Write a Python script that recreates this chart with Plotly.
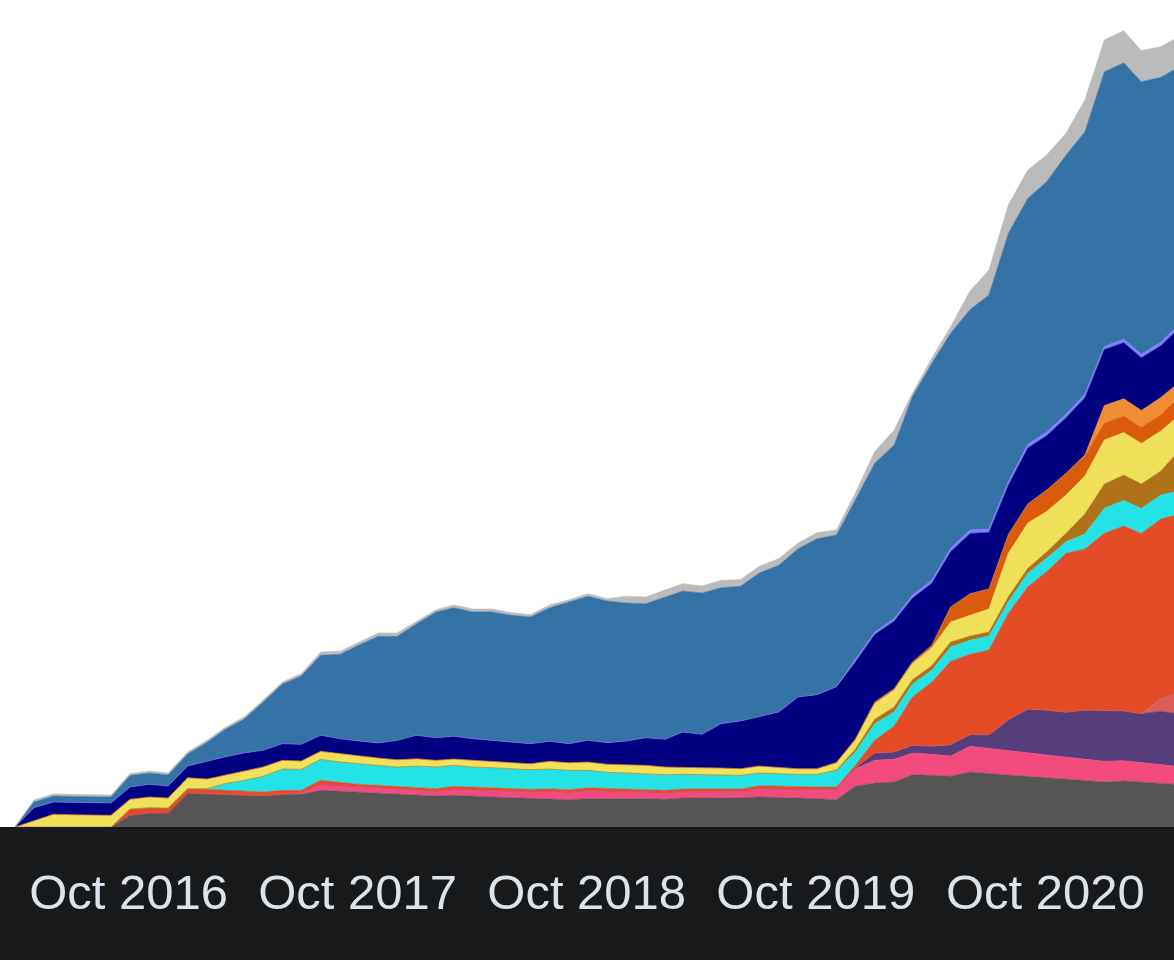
import pandas as pd
import plotly.graph_objects as go

# monthly snapshots, Apr 2016 .. May 2021
months = pd.date_range("2016-04-01", periods=62, freq="MS") + pd.Timedelta(days=2)

gray = [0, 0, 0, 0, 0, 0,
        11.7, 14, 14, 34, 33.3, 32.7, 32, 31.3, 32.7,
        32.7, 36.7, 35.7, 34.7, 34, 33, 32, 31, 31.7, 30.7, 30, 29.3, 28.7, 28, 27.3, 28.3,
        28, 28.3, 28.3, 27.7, 29, 29, 29, 29.3, 30, 29.7, 29, 28.3,
        27.3, 40.7, 44, 45, 52.3, 51.7, 50.7, 55, 53.3,
        52, 50.7, 49.3, 47.8, 46.3, 45, 46, 44.7, 43.3, 42.5]
pink = [0] * 15 + [
        2.3, 6, 6, 5.3, 5.3, 5.3, 5.3, 5, 6.6, 6.6, 6.7, 6.7, 7, 8, 7.7, 8.4,
        8, 7.4, 7, 7, 6.7, 6.3, 6.7, 6.7, 8.7, 8.3, 8.7, 9.7,
        10, 17.6, 22.7, 22.7, 21.7, 21, 20.3, 25.7, 25.5,
        24.3, 23.5, 22.7, 22.2, 21.5, 20.7, 20.3, 19.6, 19, 17.8]
purple = [0] * 43 + [
        0.7, 1, 7.3, 7.3, 7.7, 8, 11.3, 11.6, 13.2,
        31, 43.5, 44.7, 44.7, 48.9, 50.3, 49.7, 49, 53.4, 52.7]
salmon = [0] * 60 + [12.6, 22]
red = [0, 0, 0, 0, 0, 0,
       6.3, 5.3, 5, 4.3, 4.4, 4, 4, 3.7, 4,
       1.7, 4, 2.6, 2.7, 2.4, 2.4, 2, 2.3, 2.4, 2.7, 2.6, 2.3, 2, 2.3, 2.3, 2.6,
       2.7, 2.6, 2.7, 2, 2.3, 2.7, 2.3, 2, 2.6, 2.7, 2.3, 2,
       2, 2.4, 12.7, 26, 48.3, 64.3, 83.4, 80.4, 85,
       106.4, 122.6, 138.6, 159, 161.3, 177.7, 185, 180.2, 179.7, 178]
cyan = [0] * 10 + [
        0.6, 6.6, 10.7, 15.7, 21.3,
        21, 21, 20.7, 20.6, 20, 19.3, 21.7, 21.7, 21, 20, 20, 20, 19.6, 19.7, 19.4, 17.4,
        16, 15.7, 15.3, 15.6, 14.7, 14.3, 14.3, 13.7, 12.7, 12.6, 12.7, 12.7,
        16, 13, 16.6, 14, 12.7, 11.7, 14.3, 14, 14,
        11.6, 13.4, 13.4, 11.6, 15, 25, 25.5, 25, 24, 23]
brown = [0] * 43 + [
        1, 3, 4.4, 5, 4.6, 4.6, 5, 4.3, 4,
        5, 5, 6.3, 8.4, 20, 24.3, 25.5, 24.5, 24, 41]
yellow = [0, 6.3, 12.7, 12.3, 12.3, 11.7,
          9.7, 10.7, 10, 11, 9.7, 8.4, 9.3, 9.3, 8.7,
          8.3, 8, 8.3, 7.7, 7.3, 7.3, 7.3, 6.7, 6.3, 6.7, 6.4, 5.7, 6, 7.7, 7.6, 8.3,
          8, 8.3, 8.4, 7.7, 7.3, 7, 6.7, 6.6, 7, 6, 5.6, 5.6,
          7, 9, 15.6, 16.7, 16, 18, 20, 20.7, 23,
          43.4, 45.3, 40.5, 38.3, 38, 44, 42.5, 40.5, 40, 35]
dark_orange = [0] * 43 + [
        0.6, 1, 1.7, 1.6, 1.7, 2.4, 15, 21.6, 20,
        18.8, 19, 21.5, 21.7, 20, 17, 16.5, 16, 16.3, 18]
orange = [0] * 56 + [1, 17.5, 17.2, 17, 17.2, 15]
navy = [0, 13, 12.3, 12, 12, 12.3,
        12.3, 12.7, 12, 11.7, 18, 18.3, 18, 16.7, 16.6,
        16.7, 16, 15, 15, 15, 19.4, 23.4, 22.6, 22.7, 21.6, 21, 21, 20, 20, 19, 21.7,
        21.6, 23.7, 27.6, 27.7, 35, 33.4, 44.3, 47.7, 49.7, 55.7, 71.7, 74,
        75.4, 77, 67.5, 67.5, 63.7, 62, 55.2, 60.2, 56.5,
        49.3, 56, 54.3, 55.6, 57.3, 56, 56, 52.8, 51.8, 54.5]
violet = [0] * 43 + [
        0.5, 2, 2.5, 2.5, 3, 3, 3.5, 3.5, 3.5,
        3.5, 3.5, 3.5, 3.5, 3.5, 3.2, 3.5, 3.5, 3.5, 3.5]
blue = [0, 5.7, 6, 6.2, 6.2, 6,
        11.5, 11.3, 11, 12, 18.7, 27.3, 34, 48, 59.7,
        68.3, 80, 84.4, 96, 106.7, 104, 111.6, 125.7, 128.6, 126.7, 128.3, 126.7, 126.7, 133.6, 141.7, 144,
        141.7, 138, 134, 142.3, 141, 141.3, 136, 134.7, 143.3, 146.7, 148.3, 156,
        151.5, 160.3, 168.7, 173.7, 198.6, 217, 215, 220.5, 234,
        248.4, 246.2, 250.5, 259.2, 262.5, 274.6, 276.6, 272.5, 264.9, 257.5]
light_gray = [0, 2, 2, 1.8, 1.8, 1.9,
              1.8, 2, 2, 2, 2, 2, 2, 2, 2,
              2.3, 3.3, 3, 3, 3.3, 3.3, 2.7, 2.3, 2.7, 3, 3, 2.6, 2.3, 2.7, 2.3, 2.6,
              2.3, 6.7, 6.7, 7.3, 7.3, 7, 7.4, 6.6, 6.7, 6.6, 5.7, 6,
              5, 6.7, 11.6, 15, 3.4, 5, 6.6, 18.5, 25,
              28.3, 28.3, 26.7, 21.7, 31.7, 31.7, 32, 31, 30.6, 30]

# bottom to top
layers = [
    (gray, "#555555"),
    (pink, "#f34b7d"),
    (purple, "#563d7c"),
    (salmon, "#dc5b5b"),
    (red, "#e34c26"),
    (cyan, "#24e3e6"),
    (brown, "#b07219"),
    (yellow, "#f1e05a"),
    (dark_orange, "#da5b0b"),
    (orange, "#f18e33"),
    (navy, "#000080"),
    (violet, "#8080ff"),
    (blue, "#3572a5"),
    (light_gray, "#bbbbbb"),
]

fig = go.Figure()
for vals, col in layers:
    fig.add_trace(go.Scatter(
        x=months, y=vals, mode="lines", stackgroup="one",
        line=dict(width=0.6, color=col), fillcolor=col,
        showlegend=False
    ))

bg = "#18191b"
fig.update_layout(
    width=1174, height=960,
    margin=dict(l=0, r=0, t=0, b=133),
    plot_bgcolor="white",
    paper_bgcolor=bg,
    xaxis=dict(
        type="date",
        range=["2016-03-10", "2021-04-24"],
        tick0="2016-10-01", dtick="M12", tickformat="%b %Y",
        tickfont=dict(family="Liberation Sans, Arial", size=49, color="#dde3ea"),
        ticks="outside", ticklen=22, tickcolor=bg,
        showgrid=False, zeroline=False, showline=False,
    ),
    yaxis=dict(range=[0, 827], visible=False),
)

fig.write_html("out.html", config={"displayModeBar": False},
               post_script="document.body.style.margin='0';")
